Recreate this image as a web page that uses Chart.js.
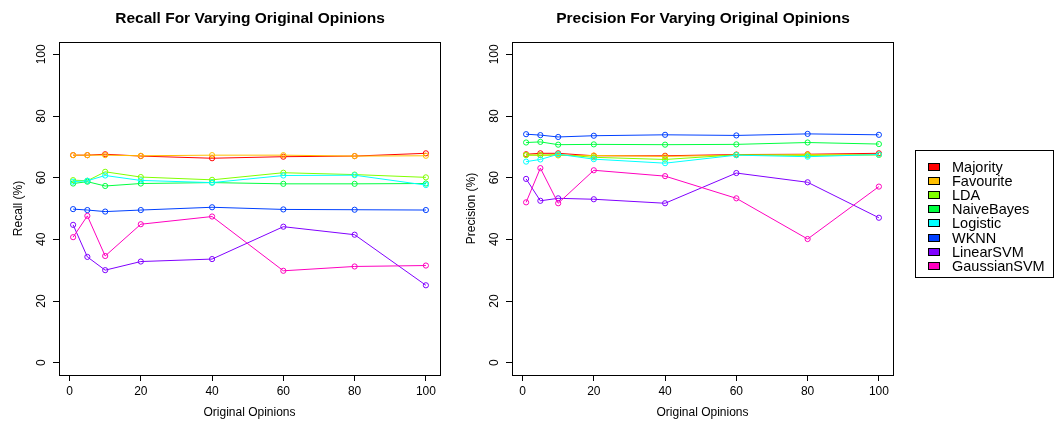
<!DOCTYPE html>
<html><head><meta charset="utf-8">
<script src="https://cdn.jsdelivr.net/npm/chart.js@4.4.1/dist/chart.umd.min.js"></script>
<style>
html,body{margin:0;padding:0;background:#fff;width:1056px;height:423px;overflow:hidden;font-family:"Liberation Sans",Arial,sans-serif;}
.wrap{position:absolute;top:0;height:423px;width:500px;}
#legend{position:absolute;left:915px;top:150px;width:139px;height:128px;border:1px solid #000;box-sizing:border-box;background:transparent;z-index:5;}
.item{position:absolute;left:0;height:14px;line-height:14px;font-size:14.5px;color:#000;white-space:nowrap;}
.sw{position:absolute;left:12px;top:3px;width:12px;height:8px;border:1px solid #000;box-sizing:border-box;}
.lbl{position:absolute;left:36px;top:0;}
</style>
</head><body>
<div class="wrap" style="left:0px"><canvas id="c1" width="500" height="423"></canvas></div>
<div class="wrap" style="left:453px"><canvas id="c2" width="500" height="423"></canvas></div>
<div id="legend"></div>
<script>
const xValues = [1, 5, 10, 20, 40, 60, 80, 100];
const xTicks = [0, 20, 40, 60, 80, 100];
const yTicks = [0, 20, 40, 60, 80, 100];
const seriesNames = ['Majority','Favourite','LDA','NaiveBayes','Logistic','WKNN','LinearSVM','GaussianSVM'];
const seriesColors = ['#FF0000','#FFBF00','#80FF00','#00FF40','#00FFFF','#0040FF','#8000FF','#FF00BF'];

const recallMajority    = [67.3, 67.3, 67.6, 67.0, 66.3, 66.8, 67.0, 67.9];
const recallFavourite   = [67.3, 67.3, 67.3, 67.1, 67.3, 67.3, 67.0, 67.1];
const recallLDA         = [59.2, 59.0, 61.9, 60.2, 59.3, 61.6, 61.0, 60.1];
const recallNaiveBayes  = [58.1, 58.7, 57.3, 58.1, 58.4, 58.0, 58.0, 58.1];
const recallLogistic    = [58.7, 59.0, 60.7, 59.1, 58.4, 60.7, 60.8, 57.6];
const recallWKNN        = [49.8, 49.5, 49.0, 49.5, 50.4, 49.7, 49.6, 49.5];
const recallLinearSVM   = [44.7, 34.3, 30.0, 32.8, 33.6, 44.1, 41.5, 25.1];
const recallGaussianSVM = [40.7, 47.6, 34.6, 44.9, 47.4, 29.8, 31.2, 31.5];

const precisionMajority    = [67.6, 67.9, 67.9, 67.1, 67.1, 67.5, 67.6, 67.9];
const precisionFavourite   = [67.4, 67.3, 67.2, 67.2, 66.9, 67.3, 67.5, 67.4];
const precisionLDA         = [67.3, 67.3, 67.5, 66.6, 65.9, 67.4, 67.2, 67.4];
const precisionNaiveBayes  = [71.4, 71.6, 70.7, 70.8, 70.7, 70.8, 71.4, 70.9];
const precisionLogistic    = [65.2, 65.9, 67.6, 66.0, 64.7, 67.3, 66.8, 67.5];
const precisionWKNN        = [74.1, 73.8, 73.2, 73.6, 73.9, 73.7, 74.2, 73.9];
const precisionLinearSVM   = [59.6, 52.5, 53.3, 53.0, 51.7, 61.5, 58.5, 47.0];
const precisionGaussianSVM = [52.0, 63.1, 51.7, 62.4, 60.5, 53.3, 40.1, 57.1];

const recallSeries = [recallMajority, recallFavourite, recallLDA, recallNaiveBayes, recallLogistic, recallWKNN, recallLinearSVM, recallGaussianSVM];
const precisionSeries = [precisionMajority, precisionFavourite, precisionLDA, precisionNaiveBayes, precisionLogistic, precisionWKNN, precisionLinearSVM, precisionGaussianSVM];

const FONT = '"Liberation Sans", Arial, Helvetica, sans-serif';
Chart.defaults.font.family = FONT;
Chart.defaults.color = '#000';

const boxPlugin = {
  id: 'plotBox',
  afterDraw(chart) {
    const a = chart.chartArea, ctx = chart.ctx;
    ctx.save();
    ctx.strokeStyle = '#000';
    ctx.lineWidth = 1;
    const l = Math.round(a.left) + 0.5, t = Math.round(a.top) + 0.5;
    const r = Math.round(a.right) + 0.5, b = Math.round(a.bottom) + 0.5;
    ctx.strokeRect(l, t, r - l, b - t);
    ctx.restore();
  }
};

function makeChart(id, title, yTitle, series) {
  const xSpan = xValues[xValues.length - 1] - xValues[0];
  const datasets = series.map((vals, i) => ({
    label: seriesNames[i],
    data: vals.map((v, j) => ({x: xValues[j], y: v})),
    borderColor: seriesColors[i],
    backgroundColor: 'rgba(0,0,0,0)',
    borderWidth: 1,
    pointRadius: 2.6,
    pointBorderWidth: 1,
    pointStyle: 'circle',
    pointBackgroundColor: 'rgba(0,0,0,0)',
    pointBorderColor: seriesColors[i],
    tension: 0,
    order: series.length - 1 - i
  }));
  return new Chart(document.getElementById(id), {
    type: 'line',
    data: {datasets},
    plugins: [boxPlugin],
    options: {
      responsive: false,
      animation: false,
      devicePixelRatio: 1,
      layout: {padding: {left: 0, right: 0, top: 0, bottom: 0}},
      plugins: {
        legend: {display: false},
        tooltip: {enabled: false},
        title: {display: true, text: title, font: {size: 15.5, weight: 'bold', family: FONT}, color: '#000', padding: {top: 9.7, bottom: 13.7}}
      },
      scales: {
        x: {
          type: 'linear',
          min: xValues[0] - 0.04 * xSpan,
          max: xValues[xValues.length - 1] + 0.04 * xSpan,
          afterBuildTicks: s => { s.ticks = xTicks.map(v => ({value: v})); },
          afterFit: s => { s.height = 48; },
          grid: {display: true, drawOnChartArea: false, drawTicks: true, tickLength: 6, color: '#000', lineWidth: 1},
          border: {display: true, color: '#000', width: 1},
          ticks: {font: {size: 12}, color: '#000', padding: 3, maxRotation: 0, minRotation: 0, autoSkip: false},
          title: {display: true, text: 'Original Opinions', font: {size: 12}, color: '#000', padding: {top: 3, bottom: 3}}
        },
        y: {
          type: 'linear',
          position: 'left',
          min: -4, max: 104,
          afterBuildTicks: s => { s.ticks = yTicks.map(v => ({value: v})); },
          afterFit: s => { s.width = 59; },
          grid: {display: true, drawOnChartArea: false, drawTicks: true, tickLength: 6, color: '#000', lineWidth: 1},
          border: {display: true, color: '#000', width: 1},
          ticks: {font: {size: 12}, color: '#000', padding: 1, minRotation: 90, maxRotation: 90, crossAlign: 'center', autoSkip: false},
          title: {display: true, text: yTitle, font: {size: 12}, color: '#000', padding: {top: 11, bottom: 0}}
        },
        spacer: {
          type: 'linear',
          position: 'right',
          display: true,
          afterFit: s => { s.width = 60; },
          grid: {display: false, drawTicks: false},
          border: {display: false},
          ticks: {display: false},
          title: {display: false}
        }
      }
    }
  });
}

makeChart('c1', 'Recall For Varying Original Opinions', 'Recall (%)', recallSeries);
makeChart('c2', 'Precision For Varying Original Opinions', 'Precision (%)', precisionSeries);

const lg = document.getElementById('legend');
seriesNames.forEach((n, i) => {
  const it = document.createElement('div');
  it.className = 'item';
  it.style.top = (9 + i * 14.1) + 'px';
  const sw = document.createElement('div');
  sw.className = 'sw';
  sw.style.background = seriesColors[i];
  const lb = document.createElement('span');
  lb.className = 'lbl';
  lb.textContent = n;
  it.appendChild(sw); it.appendChild(lb);
  lg.appendChild(it);
});
</script>
</body></html>
